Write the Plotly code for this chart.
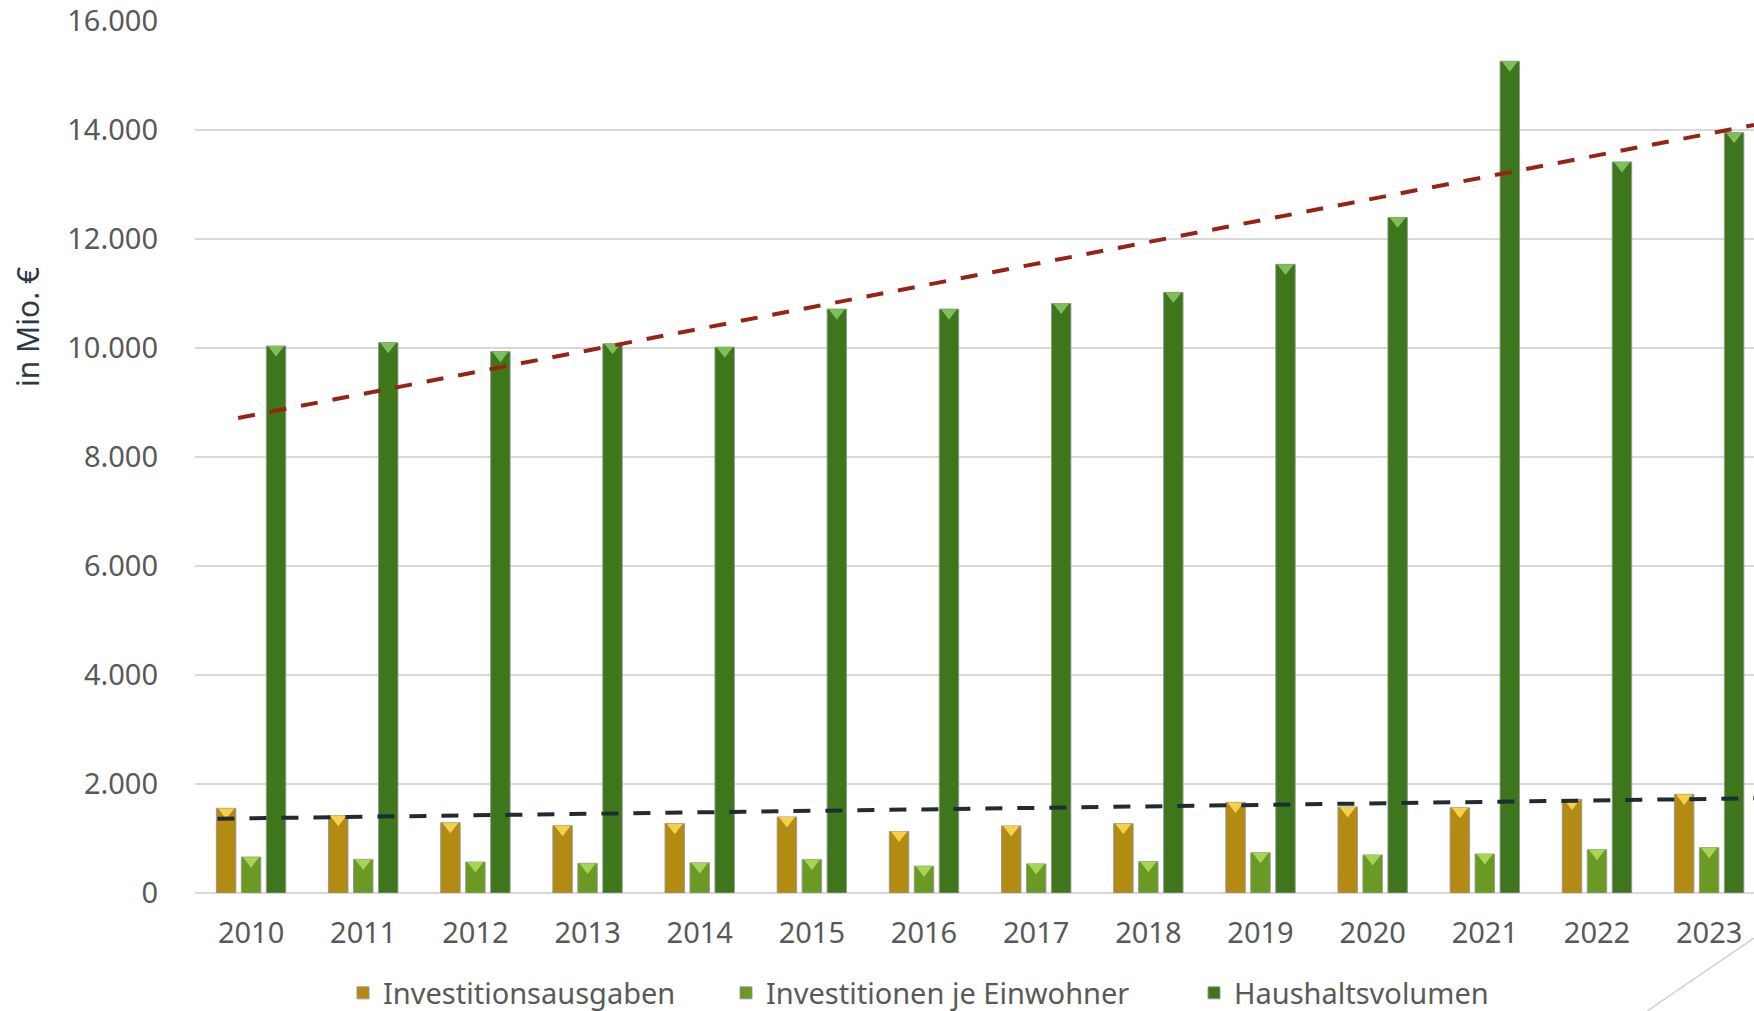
import plotly.graph_objects as go

# Data (values in Mio. EUR)
years = [2010, 2011, 2012, 2013, 2014, 2015, 2016, 2017, 2018, 2019, 2020, 2021, 2022, 2023]
investitionsausgaben = [1554, 1418, 1290, 1235, 1273, 1396, 1129, 1231, 1273, 1663, 1580, 1565, 1719, 1811]
investitionen_je_einwohner = [660, 618, 569, 545, 554, 616, 493, 534, 575, 739, 698, 716, 795, 832]
haushaltsvolumen = [10037, 10099, 9934, 10078, 10016, 10714, 10714, 10817, 11022, 11535, 12397, 15262, 13415, 13952]

# trend lines as drawn in the picture (start and end points)
trend_hh_years = [2009.885, 2023.4]
trend_hh_values = [8716, 14092]
trend_inv_years = [2009.70, 2023.4]
trend_inv_values = [1363, 1737]

series = [
    ("Investitionsausgaben", investitionsausgaben, "#B38B12", "#F4D14A"),
    ("Investitionen je Einwohner", investitionen_je_einwohner, "#6B9A24", "#A6D651"),
    ("Haushaltsvolumen", haushaltsvolumen, "#3D761B", "#7DC05A"),
]

FONT = "Noto Sans"
GREY = "#595959"
BARGAP = 0.332
SLOT = (1 - BARGAP) / 3
Y_MAX = 16000
PLOT_L, PLOT_T, PLOT_W, PLOT_H = 195, 21, 1559, 872
bevel_shift = 3.6 * Y_MAX / PLOT_H  # move triangle so its top sits on the bar top


def px_x(px):
    return (px - PLOT_L) / PLOT_W


def px_y(py):
    return (PLOT_T + PLOT_H - py) / PLOT_H


fig = go.Figure()

# bars, each with its own legend so the entries can be spaced like the original
legend_names = ["legend", "legend2", "legend3"]
for (name, vals, body, _), lg in zip(series, legend_names):
    fig.add_trace(go.Bar(x=years, y=vals, name=name, legend=lg,
                         marker=dict(color=body, line=dict(color="rgba(150,150,150,0.9)", width=1))))

# light bevel triangles on the bar tops
for k, (name, vals, _, top) in enumerate(series):
    fig.add_trace(go.Scatter(x=[yr + (k - 1) * SLOT for yr in years],
                             y=[v - bevel_shift for v in vals],
                             mode="markers", showlegend=False, hoverinfo="skip",
                             marker=dict(symbol="triangle-down", size=14, color=top,
                                         line=dict(width=0))))

# trend lines
fig.add_trace(go.Scatter(x=trend_hh_years, y=trend_hh_values, mode="lines", showlegend=False,
                         line=dict(color="#982315", width=4, dash="17px,15px")))
fig.add_trace(go.Scatter(x=trend_inv_years, y=trend_inv_values, mode="lines", showlegend=False,
                         line=dict(color="#1F2C35", width=4, dash="17px,15px")))

legend_style = dict(orientation="h", xanchor="left", yanchor="middle", y=px_y(993),
                    font=dict(family=FONT, size=29, color=GREY), itemwidth=30,
                    bgcolor="rgba(0,0,0,0)")

fig.update_layout(
    width=1754, height=1011,
    margin=dict(l=PLOT_L, r=0, t=PLOT_T, b=1011 - PLOT_T - PLOT_H, autoexpand=False),
    paper_bgcolor="white", plot_bgcolor="white",
    barmode="group", bargap=BARGAP, bargroupgap=0.22,
    font=dict(family=FONT, size=29, color=GREY),
    legend=dict(legend_style, x=px_x(343)),
    legend2=dict(legend_style, x=px_x(726)),
    legend3=dict(legend_style, x=px_x(1194)),
    shapes=[dict(type="line", xref="paper", yref="paper",
                 x0=px_x(1647), y0=px_y(1011), x1=1.0, y1=px_y(938),
                 line=dict(color="#D0D0D0", width=1.5))],
    annotations=[dict(text="in Mio. €", textangle=-90, showarrow=False,
                      xref="paper", yref="paper", x=px_x(28), y=px_y(327),
                      xanchor="center", yanchor="middle",
                      font=dict(family=FONT, size=30, color="#2B3A46"))],
)

fig.update_xaxes(range=[2009.5, 2023.4], tickmode="array", tickvals=years,
                 ticktext=[str(y) for y in years], showgrid=False, zeroline=False,
                 showline=False, ticks="", ticklabelstandoff=20,
                 tickfont=dict(family=FONT, size=29, color=GREY))
fig.update_yaxes(range=[0, Y_MAX], dtick=2000, tickformat=",d",
                 showgrid=True, gridcolor="#D9D9D9", gridwidth=2,
                 zeroline=True, zerolinecolor="#D9D9D9", zerolinewidth=2,
                 showline=False, ticks="", ticklabelstandoff=36,
                 tickfont=dict(family=FONT, size=29, color=GREY))
fig.update_layout(separators=",.")

fig.write_html("out.html", config={"displayModeBar": False},
               post_script="document.body.style.margin='0';")
